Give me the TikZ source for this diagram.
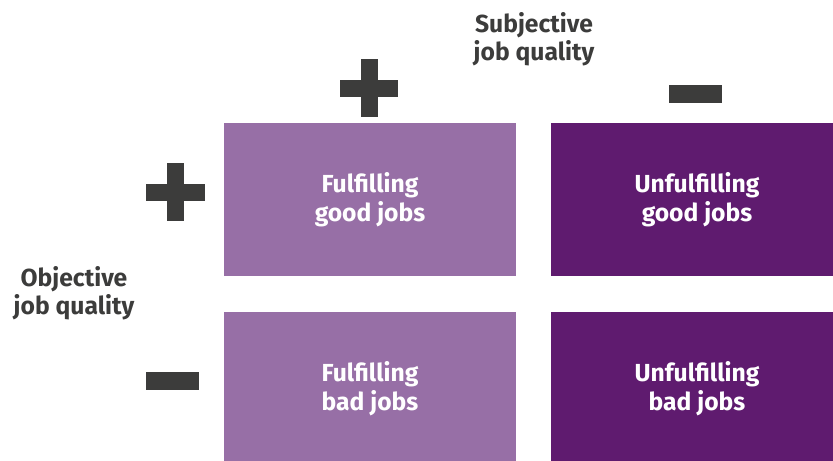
\documentclass[tikz,border=0pt]{standalone}
\usepackage{fontspec}
\setmainfont{Fira Sans}

\definecolor{lightplum}{HTML}{976FA6}
\definecolor{darkplum}{HTML}{5F1B6F}
\definecolor{signgray}{HTML}{3C3C3B}

\tikzset{every picture/.style={line width=0.75pt}}
\tikzset{
	quad/.style={rectangle, inner sep=0pt, minimum width=219pt, minimum height=114.75pt, text=white, align=center, font=\bfseries\fontsize{18.5}{21.5}\selectfont},
	lightquad/.style={quad, fill=lightplum},
	darkquad/.style={quad, fill=darkplum},
	axislabel/.style={align=center, inner sep=0.75pt, text=signgray, font=\bfseries\fontsize{18.5}{21}\selectfont},
	sign/.style={fill=signgray, draw=none}
}

\begin{document}
\begin{tikzpicture}[x=0.75pt,y=0.75pt,yscale=-1,xscale=1]
	%page is 833 x 461, the right and bottom boxes run past it
	\clip (0,0) rectangle (833,461);

	% Quadrants
	\node[lightquad] (fgood) at (370,199.5) {Fulfilling\\good jobs};
	\node[darkquad] (ugood) at (697,199.5) {Unfulfilling\\good jobs};
	\node[lightquad] (fbad) at (370,388.5) {Fulfilling\\bad jobs};
	\node[darkquad] (ubad) at (697,388.5) {Unfulfilling\\bad jobs};

	% Axis labels
	\node[axislabel] (subj) at (534,39) {Subjective\\job quality};
	\node[axislabel] (obj) at (74,293) {Objective\\job quality};

	% Plus signs
	\fill[sign] (361,59) rectangle (377.5,117);
	\fill[sign] (340,80) rectangle (398,97);
	\fill[sign] (167,163) rectangle (184,221);
	\fill[sign] (146,184) rectangle (204.5,201);

	% Minus signs
	\fill[sign] (669,85) rectangle (722,103);
	\fill[sign] (146,372) rectangle (199,390);
\end{tikzpicture}
\end{document}
